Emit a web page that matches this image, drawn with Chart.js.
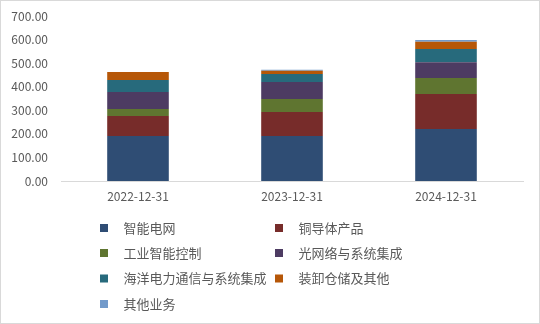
<!DOCTYPE html>
<html><head><meta charset="utf-8">
<script src="https://cdn.jsdelivr.net/npm/chart.js@4/dist/chart.umd.min.js"></script>
<style>html,body{margin:0;padding:0;background:#fff}#c{display:block}</style>
</head><body>
<canvas id="c" width="540" height="324"></canvas>
<script>
const categories = ["2022-12-31", "2023-12-31", "2024-12-31"];
const seriesNames = ["智能电网", "铜导体产品", "工业智能控制", "光网络与系统集成", "海洋电力通信与系统集成", "装卸仓储及其他", "其他业务"];
const smartGrid = [191, 191, 221];
const copperProducts = [85, 102, 148];
const industrialControl = [29, 55, 68];
const opticalNetwork = [73, 72, 67];
const marineComm = [50, 34, 56];
const loadingStorage = [34, 14, 31];
const otherBusiness = [0, 4, 7];
const yTicks = [0, 100, 200, 300, 400, 500, 600, 700];
const colors = ["#2F4D74", "#772C2A", "#5F7530", "#4D3B62", "#276A7C", "#B65708", "#729ACA"];
const values = [smartGrid, copperProducts, industrialControl, opticalNetwork, marineComm, loadingStorage, otherBusiness];

const FONT = '"Noto Sans CJK SC", "Noto Sans", sans-serif';

const legendPlugin = {
  id: 'customLegend',
  afterDraw(chart) {
    const ctx = chart.ctx;
    ctx.save();
    ctx.strokeStyle = '#D9D9D9';
    ctx.lineWidth = 1;
    ctx.strokeRect(0.5, 0.5, chart.width - 1, chart.height - 1);
    const cols = [100, 275];
    const textOff = 23.5;
    const rowY = [228, 253, 278.5, 304];
    ctx.font = '13px ' + FONT;
    ctx.textBaseline = 'middle';
    ctx.textAlign = 'left';
    chart.data.datasets.forEach((ds, i) => {
      const x = cols[i % 2];
      const y = rowY[Math.floor(i / 2)];
      ctx.fillStyle = ds.backgroundColor;
      ctx.fillRect(x, y - 4, 8, 8);
      ctx.fillStyle = '#595959';
      ctx.fillText(ds.label, x + textOff, y);
    });
    ctx.restore();
  }
};

new Chart(document.getElementById('c'), {
  type: 'bar',
  data: {
    labels: categories,
    datasets: seriesNames.map((n, i) => ({
      label: n,
      data: values[i],
      backgroundColor: colors[i],
      borderWidth: 0,
      barPercentage: 0.4,
      categoryPercentage: 1.0
    }))
  },
  options: {
    responsive: false,
    animation: false,
    layout: { padding: { top: 16, right: 17, left: 0, bottom: 0 } },
    plugins: { legend: { display: false }, tooltip: { enabled: false } },
    scales: {
      x: {
        stacked: true,
        grid: { display: false, drawTicks: false },
        border: { display: true, color: '#D9D9D9', width: 1 },
        ticks: { color: '#595959', font: { size: 12, family: FONT }, padding: 8, maxRotation: 0 },
        afterFit(s) { s.height = 143; s.paddingLeft = 0; s.paddingRight = 0; }
      },
      y: {
        stacked: true,
        min: 0, max: 700,
        afterBuildTicks(s) { s.ticks = yTicks.map(v => ({ value: v })); },
        grid: { display: false, drawTicks: false },
        border: { display: false },
        ticks: { color: '#595959', font: { size: 12, family: FONT }, padding: 13, callback: v => v.toFixed(2) },
        afterFit(s) { s.width = 61; s.paddingTop = 0; s.paddingBottom = 0; }
      }
    }
  },
  plugins: [legendPlugin]
});
</script>
</body></html>
